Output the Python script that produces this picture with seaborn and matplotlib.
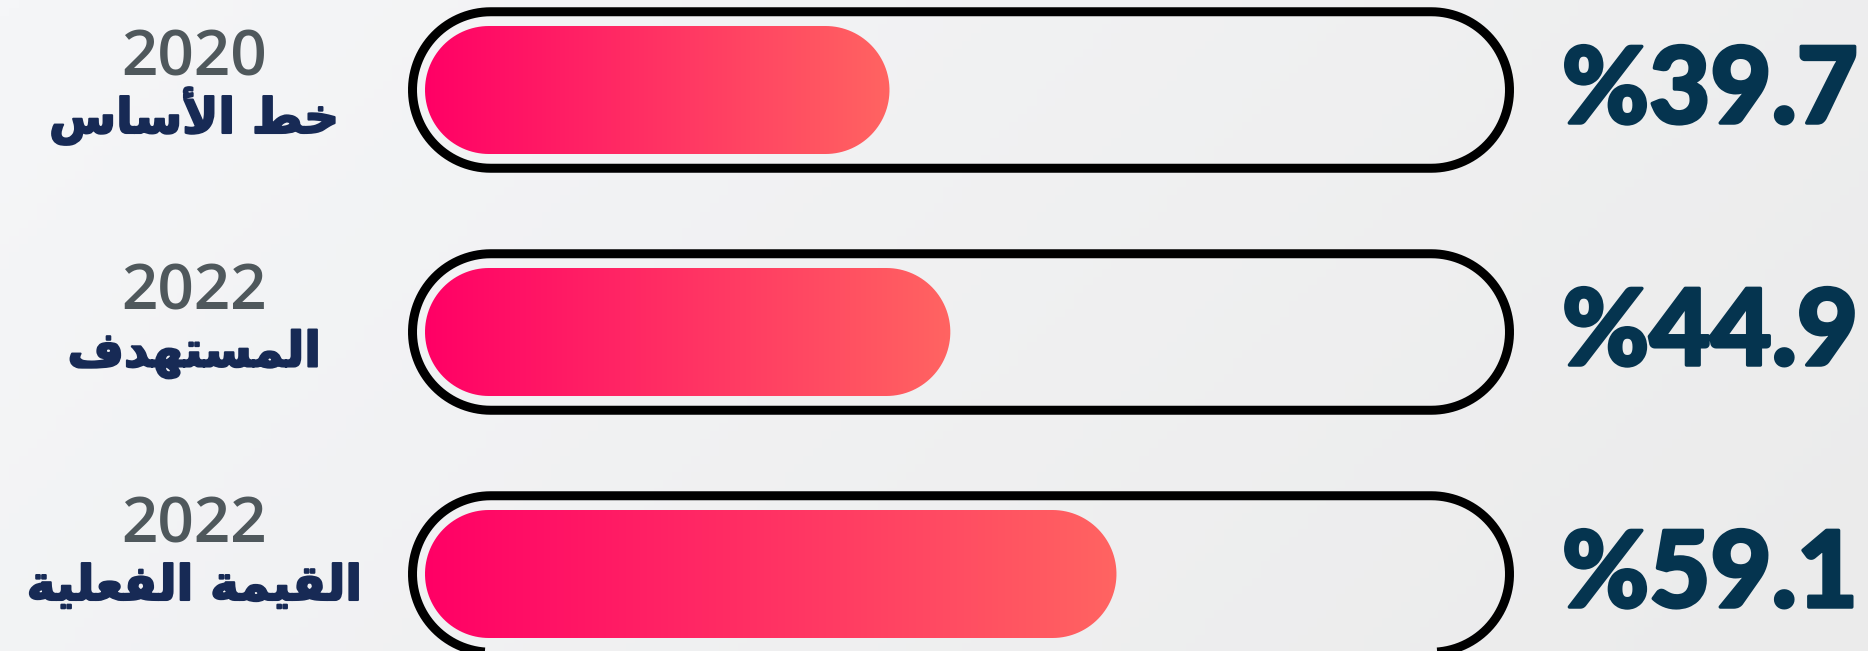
import numpy as np
import pandas as pd
import matplotlib
matplotlib.use('Agg')
import matplotlib.pyplot as plt
import matplotlib.patheffects as pe
from matplotlib.colors import LinearSegmentedColormap
from matplotlib.path import Path
from matplotlib.patches import PathPatch
import seaborn as sns

# ### chart data
years = ['2020', '2022', '2022']
names = ['خط الأساس', 'المستهدف', 'القيمة الفعلية']
values = [39.7, 44.9, 59.1]
value_labels = ['%39.7', '%44.9', '%59.1']

# ### layout (pixels of the 1868x651 picture)
W, H, DPI = 1868, 651, 100
PX_PER_UNIT = 11.7   # horizontal px for one percentage point
ROW_PX = 242         # px between row centres
X0_PX = 425          # where the bars start
Y0_PX = 90           # centre of the first row
BAR_PX = 128         # bar thickness
TRACK_PX = 156.5     # outline thickness (stroke centre)
GAP_PX = 12.5        # gap bar edge -> outline stroke centre
TRACK_END_PX = 1497  # right end of the bar room inside the outline
LABEL_X_PX = 194
LABEL_BASE_PX = 133  # baseline of the first arabic label
LABEL_ROW_PX = 233.5
YEAR_UP_PX = 57
VALUE_X_PX = 1710

PT = 72 / DPI


# ### very small arabic shaper (matplotlib does no shaping nor RTL)
FORMS = {
    # isolated, final, initial, medial
    'ا': ('\uFE8D', '\uFE8E', None, None),
    'أ': ('\uFE83', '\uFE84', None, None),
    'ة': ('\uFE93', '\uFE94', None, None),
    'د': ('\uFEA9', '\uFEAA', None, None),
    'ت': ('\uFE95', '\uFE96', '\uFE97', '\uFE98'),
    'خ': ('\uFEA5', '\uFEA6', '\uFEA7', '\uFEA8'),
    'س': ('\uFEB1', '\uFEB2', '\uFEB3', '\uFEB4'),
    'ط': ('\uFEC1', '\uFEC2', '\uFEC3', '\uFEC4'),
    'ع': ('\uFEC9', '\uFECA', '\uFECB', '\uFECC'),
    'ف': ('\uFED1', '\uFED2', '\uFED3', '\uFED4'),
    'ق': ('\uFED5', '\uFED6', '\uFED7', '\uFED8'),
    'ل': ('\uFEDD', '\uFEDE', '\uFEDF', '\uFEE0'),
    'م': ('\uFEE1', '\uFEE2', '\uFEE3', '\uFEE4'),
    'ه': ('\uFEE9', '\uFEEA', '\uFEEB', '\uFEEC'),
    'ي': ('\uFEF1', '\uFEF2', '\uFEF3', '\uFEF4'),
}
LAM_ALEF = {'ا': ('\uFEFB', '\uFEFC'), 'أ': ('\uFEF7', '\uFEF8')}


def shape(text):
    out = []
    i = 0
    while i < len(text):
        c = text[i]
        if c not in FORMS:
            out.append(c)
            i += 1
            continue
        prev = text[i - 1] if i > 0 else None
        nxt = text[i + 1] if i + 1 < len(text) else None
        joins_prev = prev in FORMS and FORMS[prev][2] is not None
        if c == 'ل' and nxt in LAM_ALEF:
            out.append(LAM_ALEF[nxt][1 if joins_prev else 0])
            i += 2
            continue
        joins_next = FORMS[c][2] is not None and nxt in FORMS
        if joins_prev and joins_next:
            out.append(FORMS[c][3])
        elif joins_prev:
            out.append(FORMS[c][1])
        elif joins_next:
            out.append(FORMS[c][2])
        else:
            out.append(FORMS[c][0])
        i += 1
    return ''.join(reversed(out))


def pill(x0, x1, yc, h, rx):
    ry = h / 2
    t = np.linspace(np.pi / 2, 3 * np.pi / 2, 60)
    left = np.column_stack([x0 + rx + rx * np.cos(t), yc + ry * np.sin(t)])
    t = np.linspace(-np.pi / 2, np.pi / 2, 60)
    right = np.column_stack([x1 - rx + rx * np.cos(t), yc + ry * np.sin(t)])
    verts = np.vstack([left, right, left[:1]])
    return Path(verts, closed=True)


def px_to_y(px):
    return (px - Y0_PX) / ROW_PX


sns.set_theme(style='white')

fig = plt.figure(figsize=(W / DPI, H / DPI), dpi=DPI)
fig.patch.set_facecolor('#f3f4f6')
ax = fig.add_axes([0, 0, 1, 1])

# background: soft diagonal grey
bg_cmap = LinearSegmentedColormap.from_list('bg', ['#f5f6f8', '#ebebeb'])
gx, gy = np.meshgrid(np.linspace(0, 1, 200), np.linspace(0, 1, 80))
ax.imshow(0.75 * gx + 0.25 * gy, cmap=bg_cmap, extent=[0, 1, 0, 1],
          transform=ax.transAxes, aspect='auto', zorder=0)

df = pd.DataFrame({'name': names, 'value': values})
sns.barplot(data=df, x='value', y='name', orient='h',
            width=BAR_PX / ROW_PX, color='#ff0066', ax=ax)

bar_cmap = LinearSegmentedColormap.from_list('bar', ['#ff0066', '#ff6461'])
grad = np.linspace(0, 1, 256)[None, :]

rx_bar = BAR_PX / 2 / PX_PER_UNIT
rx_track = TRACK_PX / 2 / PX_PER_UNIT
pad = GAP_PX / PX_PER_UNIT
track_max = (TRACK_END_PX - X0_PX) / PX_PER_UNIT

for rect in list(ax.patches):
    rect.set_visible(False)
    x0 = rect.get_x()
    x1 = x0 + rect.get_width()
    yc = rect.get_y() + rect.get_height() / 2
    h = rect.get_height()

    # outline of the track
    track = PathPatch(pill(-pad, track_max + pad, yc, TRACK_PX / ROW_PX, rx_track),
                      facecolor='none', edgecolor='black', lw=9 * PT, zorder=2)
    ax.add_patch(track)

    # gradient pill
    shape_patch = PathPatch(pill(x0, x1, yc, h, rx_bar),
                            facecolor='none', edgecolor='none', zorder=3)
    ax.add_patch(shape_patch)
    im = ax.imshow(grad, cmap=bar_cmap, extent=[x0, x1, yc + h / 2, yc - h / 2],
                   aspect='auto', zorder=3, interpolation='bilinear')
    im.set_clip_path(shape_patch)

ax.set_xlim(-X0_PX / PX_PER_UNIT, (W - X0_PX) / PX_PER_UNIT)
ax.set_ylim((H - Y0_PX) / ROW_PX, -Y0_PX / ROW_PX)
ax.set_aspect('auto')
ax.axis('off')

# ### texts
ytr = ax.get_yaxis_transform()
navy = '#172a55'
teal = '#05344f'
for i in range(len(values)):
    base = LABEL_BASE_PX + i * LABEL_ROW_PX
    ax.text(LABEL_X_PX / W, px_to_y(base - YEAR_UP_PX), years[i], transform=ytr,
            ha='center', va='baseline', fontsize=46, fontweight='semibold',
            family=['Open Sans', 'DejaVu Sans'], color='#4f585c', zorder=5)
    ax.text(LABEL_X_PX / W, px_to_y(base), shape(names[i]), transform=ytr,
            ha='center', va='baseline', fontsize=35, fontweight='bold',
            family=['DejaVu Sans'], color=navy, zorder=5,
            path_effects=[pe.withStroke(linewidth=1.5, foreground=navy)])
    ax.annotate(value_labels[i], xy=(VALUE_X_PX / W, i), xycoords=ytr,
                xytext=(0, -33 * PT), textcoords='offset points',
                ha='center', va='baseline', fontsize=76, fontweight='black',
                family=['Lato', 'DejaVu Sans'], color=teal, zorder=5,
                path_effects=[pe.withStroke(linewidth=2.5, foreground=teal)])

fig.savefig('out.png', dpi=DPI, facecolor=fig.get_facecolor())
